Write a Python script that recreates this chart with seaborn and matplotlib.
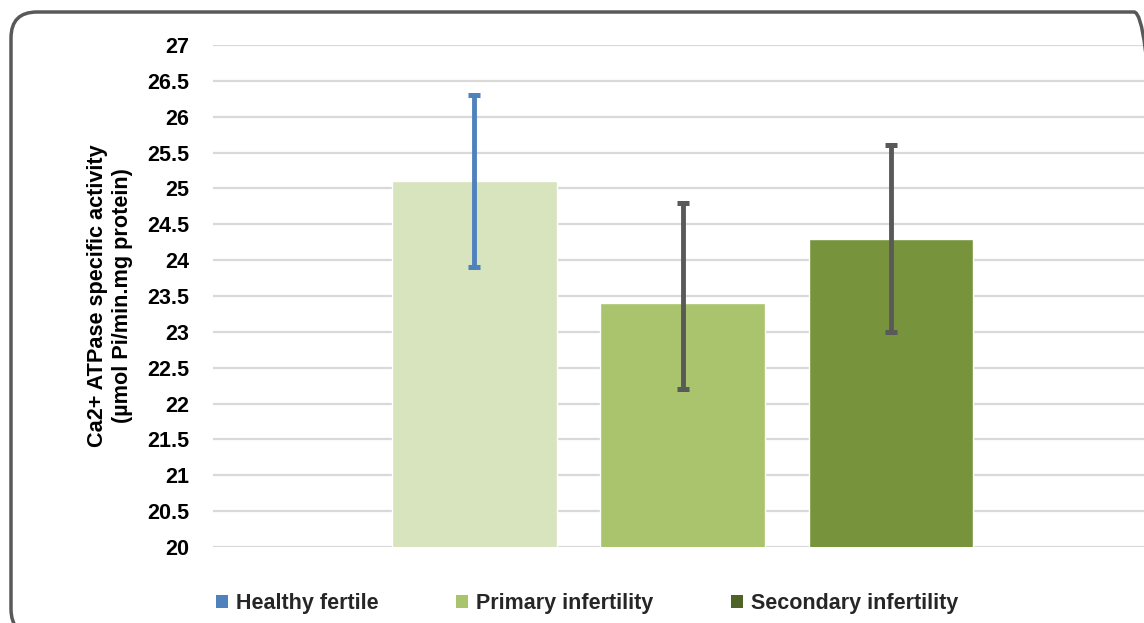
import matplotlib
matplotlib.use("Agg")
import matplotlib.pyplot as plt
import seaborn as sns
import pandas as pd
from matplotlib.patches import Patch, FancyBboxPatch
from matplotlib.transforms import IdentityTransform

categories = ["Healthy fertile", "Primary infertility", "Secondary infertility"]
values = [25.1, 23.4, 24.3]
err_low = [1.2, 1.2, 1.3]
err_high = [1.2, 1.4, 1.3]
yticks = [20, 20.5, 21, 21.5, 22, 22.5, 23, 23.5, 24, 24.5, 25, 25.5, 26, 26.5, 27]
ylabel = "Ca2+ ATPase specific activity\n(\u00b5mol Pi/min.mg protein)"

bar_colors = ["#d7e4bd", "#a9c46c", "#77933c"]
err_colors = ["#4f81bd", "#595959", "#595959"]
legend_colors = ["#4f81bd", "#a9c46c", "#4f6228"]

sns.set_theme(style="white")
plt.rcParams["font.family"] = ["Liberation Sans", "DejaVu Sans"]
plt.rcParams["font.weight"] = "bold"

W, H = 1144, 623
fig = plt.figure(figsize=(W / 100, H / 100), dpi=100)
ax = fig.add_axes([213 / W, 1 - 547 / H, (1146 - 213) / W, (547 - 45) / H])

df = pd.DataFrame({"cat": categories, "val": values})
sns.barplot(data=df, x="cat", y="val", hue="cat", palette=bar_colors, width=0.79,
            legend=False, ax=ax, zorder=2, saturation=1)
for i, v in enumerate(values):
    ax.errorbar(i, v, yerr=[[err_low[i]], [err_high[i]]], color=err_colors[i],
                lw=3.5, capsize=4.6, capthick=3.6, zorder=3)

ax.set_ylim(20, 27)
ax.set_xlim(-1.255, 3.225)
ax.set_yticks(yticks)
ax.set_yticklabels([f"{t:g}" for t in yticks], fontsize=15.5, fontweight="bold", color="#000000")
ax.tick_params(axis="y", length=0, pad=17)
ax.set_xticks([])
ax.set_xlabel("")
ax.set_ylabel("")
ax.yaxis.grid(True, color="#d9d9d9", lw=1.6, zorder=0)
ax.set_axisbelow(True)
for s in ax.spines.values():
    s.set_visible(False)

fig.text(110 / W, 1 - 296 / H, ylabel, rotation=90, ha="center", va="center",
         fontsize=15.6, fontweight="bold", color="#000000", linespacing=1.25)

handles = [Patch(facecolor=c, edgecolor="none") for c in legend_colors]
fig.legend(handles, categories, loc="center", bbox_to_anchor=(587 / W, 1 - 604 / H),
           ncol=3, frameon=False, prop={"size": 15.5, "weight": "bold"},
           handlelength=0.56, handleheight=0.56, handletextpad=0.37, columnspacing=3.6)

# rounded outer frame, in pixel coordinates (origin bottom-left)
border = FancyBboxPatch((11, -12), 1160 - 11, H + 12 - 12,
                        boxstyle="round,pad=0,rounding_size=26",
                        transform=IdentityTransform(), fill=False, edgecolor="#595959",
                        lw=2.5, clip_on=False)
fig.add_artist(border)

fig.savefig("out.png", dpi=100)
